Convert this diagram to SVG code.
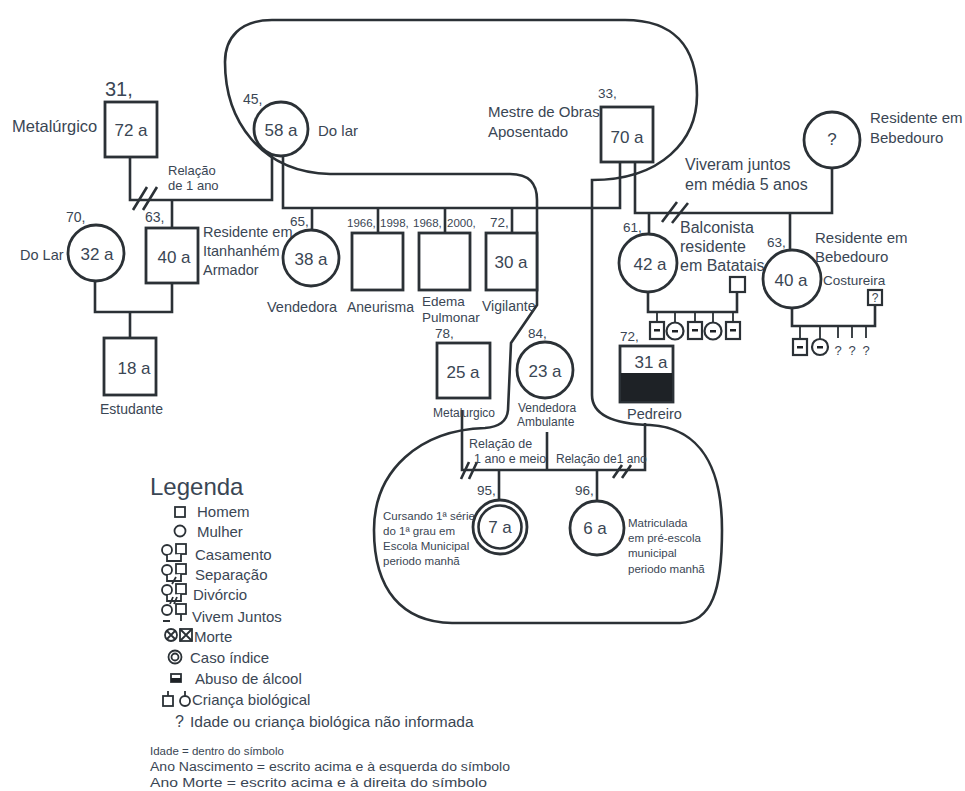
<svg xmlns="http://www.w3.org/2000/svg" width="965" height="791" viewBox="0 0 965 791">
<style>
.ln{fill:none;stroke:#2b3136;stroke-width:2.6}
.thin{fill:none;stroke:#2b3136;stroke-width:1.8}
.sh{fill:#fff;stroke:#2b3136;stroke-width:2.8}
.sm{fill:#fff;stroke:#2b3136;stroke-width:2.2}
.lgs{fill:#fff;stroke:#2b3136;stroke-width:1.8}
.blk{fill:#1e2226}
.t{font-family:"Liberation Sans",Arial,Helvetica,sans-serif;fill:#3a4654}
.age{font-size:17px;text-anchor:middle}
.yr{font-size:13.5px}
.yy{font-size:11.5px}
.l15{font-size:15px}
.l14{font-size:14px}
.l12{font-size:12px}
.l11{font-size:11.5px}
.l16{font-size:16px}
</style>
<rect width="965" height="791" fill="#fff"/>

<g id="household">
<path class="ln" d="M592,180 C662,180 697,140 697,95 C697,45 672,20 625,20 L272,20 C240,20 225,38 225,62 C225,120 260,172 330,174 L510,174 C530,174 537,184 537,200 L537,305 L511,343 L508,410 C507,422 498,427 485,428 C420,430 374,470 374,530 C374,590 402,622 452,623 L680,623 C712,622 722,590 722,530 C722,470 702,428 650,425 C615,424 592,415 592,395 Z"/>
</g>

<g id="connectors">
<path class="ln" d="M130,157 V200 H272 V155"/>
<path class="ln" d="M172,200 V228"/>
<path class="ln" d="M283,155 V208 H620 V162"/>
<path class="ln" d="M312,208 V230 M378,208 V233 M445,208 V233 M512,208 V233"/>
<path class="ln" d="M635,162 V213 H832 V168"/>
<path class="ln" d="M649,213 V234 M790,213 V250"/>
<path class="ln" d="M648,292 V312 H737 V292"/>
<path class="thin" d="M657,312 V322 M675,312 V322 M695,312 V322 M713,312 V322 M733,312 V322"/>
<path class="ln" d="M792,308 V326 H875 V305"/>
<path class="thin" d="M800,326 V339 M820,326 V339 M838,326 V338 M852,326 V338 M866,326 V338"/>
<path class="ln" d="M95,281 V312 H172 V283"/>
<path class="ln" d="M130,312 V338"/>
<path class="ln" d="M462,410 V470 H645 V423"/>
<path class="ln" d="M547,432 V470"/>
<path class="ln" d="M499,470 V500 M597,470 V501"/>
<path class="ln" d="M133,210 L147,187 M143,210 L157,187"/>
<path class="ln" d="M662,222 L677,202 M672,223 L688,203"/>
<path class="ln" d="M461,479 L469,462 M469,479 L477,462"/>
<path class="ln" d="M613,478 L622,465 M622,478 L631,465"/>
</g>

<g id="n-72a">
<text class="t" x="105" y="96" font-size="20">31,</text>
<rect class="sh" x="105" y="102" width="52" height="55"/>
<text class="t age" x="131" y="136">72 a</text>
<text class="t" x="12" y="132" font-size="16.5">Metalúrgico</text>
</g>
<g id="n-58a">
<text class="t" x="243" y="104" font-size="14">45,</text>
<circle class="sh" cx="281" cy="129" r="27"/>
<text class="t age" x="281" y="136">58 a</text>
<text class="t l15" x="318" y="136">Do lar</text>
</g>
<g id="rel-left">
<text class="t" x="168" y="175" font-size="13">Relação</text>
<text class="t" x="168" y="190" font-size="13">de 1 ano</text>
</g>
<g id="n-32a">
<text class="t l14" x="66" y="222">70,</text>
<circle class="sh" cx="96" cy="253" r="28"/>
<text class="t age" x="97" y="260">32 a</text>
<text class="t" x="20" y="260" font-size="14.5">Do Lar</text>
</g>
<g id="n-40a-left">
<text class="t l14" x="145" y="222">63,</text>
<rect class="sh" x="146" y="228" width="52" height="55"/>
<text class="t age" x="174" y="263">40 a</text>
<text class="t" x="203" y="237" font-size="14.5">Residente em</text>
<text class="t" x="203" y="256" font-size="14.5">Itanhanhém</text>
<text class="t" x="203" y="275" font-size="14.5">Armador</text>
</g>
<g id="n-18a">
<rect class="sh" x="104" y="338" width="52" height="57"/>
<text class="t age" x="134" y="374">18 a</text>
<text class="t l14" x="100" y="414">Estudante</text>
</g>
<g id="n-38a">
<text class="t yr" x="290" y="226">65,</text>
<circle class="sh" cx="311" cy="258" r="28"/>
<text class="t age" x="311" y="265">38 a</text>
<text class="t" x="267" y="312" font-size="14.5">Vendedora</text>
</g>
<g id="n-aneurisma">
<text class="t yy" x="347" y="227">1966,</text>
<text class="t yy" x="380" y="227">1998,</text>
<rect class="sh" x="352" y="233" width="51" height="57"/>
<text class="t l14" x="347" y="312">Aneurisma</text>
</g>
<g id="n-edema">
<text class="t yy" x="413" y="227">1968,</text>
<text class="t yy" x="447" y="227">2000,</text>
<rect class="sh" x="419" y="233" width="51" height="57"/>
<text class="t" x="422" y="306" font-size="13.5">Edema</text>
<text class="t" x="422" y="322" font-size="13.5">Pulmonar</text>
</g>
<g id="n-30a">
<text class="t yr" x="490" y="227">72,</text>
<rect class="sh" x="486" y="233" width="51" height="57"/>
<text class="t age" x="511" y="268">30 a</text>
<text class="t l14" x="482" y="311">Vigilante</text>
</g>
<g id="n-70a">
<text class="t l15" x="488" y="117">Mestre de Obras</text>
<text class="t l15" x="488" y="137">Aposentado</text>
<text class="t yr" x="598" y="98">33,</text>
<rect class="sh" x="601" y="107" width="52" height="55"/>
<text class="t age" x="627" y="143">70 a</text>
</g>
<g id="rel-right">
<text class="t l16" x="685" y="170">Viveram juntos</text>
<text class="t l16" x="685" y="190">em média 5 anos</text>
</g>
<g id="n-q-top">
<circle class="sh" cx="832" cy="140" r="28"/>
<text class="t age" x="832" y="145" font-size="13">?</text>
<text class="t l15" x="870" y="123">Residente em</text>
<text class="t l15" x="870" y="143">Bebedouro</text>
</g>
<g id="n-42a">
<text class="t yr" x="623" y="232">61,</text>
<circle class="sh" cx="648" cy="263" r="29"/>
<text class="t age" x="650" y="270">42 a</text>
<text class="t l16" x="680" y="233">Balconista</text>
<text class="t l16" x="680" y="252">residente</text>
<text class="t l16" x="680" y="271">em Batatais</text>
</g>
<g id="n-42a-partner">
<rect class="sm" x="730" y="277" width="15" height="15"/>
</g>
<g id="n-42a-children">
<rect class="sm" x="650" y="322" width="14" height="17"/><rect class="blk" x="654" y="329" width="6" height="2.5"/>
<circle class="sm" cx="675" cy="331" r="8.5"/><rect class="blk" x="672" y="330" width="6" height="2.5"/>
<rect class="sm" x="688" y="322" width="14" height="17"/><rect class="blk" x="692" y="329" width="6" height="2.5"/>
<circle class="sm" cx="713" cy="331" r="8.5"/><rect class="blk" x="710" y="330" width="6" height="2.5"/>
<rect class="sm" x="726" y="322" width="14" height="17"/><rect class="blk" x="730" y="329" width="6" height="2.5"/>
</g>
<g id="n-40a-right">
<text class="t yr" x="767" y="247">63,</text>
<circle class="sh" cx="792" cy="279" r="29"/>
<text class="t age" x="791" y="286">40 a</text>
<text class="t l15" x="815" y="243">Residente em</text>
<text class="t l15" x="815" y="262">Bebedouro</text>
<text class="t" x="823" y="285" font-size="13.5">Costureira</text>
</g>
<g id="n-40a-partner">
<rect class="sm" x="868" y="290" width="14" height="15"/>
<text class="t" x="875" y="302" font-size="12" text-anchor="middle">?</text>
</g>
<g id="n-40a-children">
<rect class="sm" x="793" y="339" width="14" height="16"/><rect class="blk" x="797" y="346" width="6" height="2.5"/>
<circle class="sm" cx="820" cy="347" r="8"/><rect class="blk" x="817" y="346" width="6" height="2.5"/>
<text class="t" x="838" y="355" font-size="13" text-anchor="middle">?</text>
<text class="t" x="852" y="355" font-size="13" text-anchor="middle">?</text>
<text class="t" x="866" y="355" font-size="13" text-anchor="middle">?</text>
</g>
<g id="n-31a">
<text class="t yr" x="620" y="341">72,</text>
<rect class="sh" x="620" y="346" width="53" height="56"/>
<rect class="blk" x="621" y="373" width="51" height="28"/>
<text class="t age" x="651" y="368">31 a</text>
<text class="t" x="627" y="419" font-size="14.5">Pedreiro</text>
</g>
<g id="n-25a">
<text class="t yr" x="435" y="338">78,</text>
<rect class="sh" x="437" y="343" width="53" height="55"/>
<text class="t age" x="463" y="378">25 a</text>
<text class="t l12" x="433" y="417">Metalurgico</text>
</g>
<g id="n-23a">
<text class="t yr" x="528" y="338">84,</text>
<circle class="sh" cx="545" cy="370" r="28"/>
<text class="t age" x="545" y="377">23 a</text>
<text class="t l12" x="518" y="412">Vendedora</text>
<text class="t l12" x="517" y="426">Ambulante</text>
</g>
<g id="rel-bottom">
<text class="t" x="469" y="448" font-size="12.5">Relação de</text>
<text class="t" x="474" y="463" font-size="12.5">1 ano e meio</text>
<text class="t" x="556" y="463" font-size="12">Relação de1 ano</text>
</g>
<g id="n-7a">
<text class="t yr" x="477" y="495">95,</text>
<circle class="sh" cx="500" cy="527" r="27"/>
<circle class="ln" cx="500" cy="527" r="21.5" stroke-width="2.2"/>
<text class="t age" x="500" y="533">7 a</text>
<text class="t l11" x="383" y="520">Cursando 1ª série</text>
<text class="t l11" x="383" y="535">do 1ª grau em</text>
<text class="t l11" x="383" y="550">Escola Municipal</text>
<text class="t l11" x="383" y="565">periodo manhã</text>
</g>
<g id="n-6a">
<text class="t yr" x="575" y="495">96,</text>
<circle class="sh" cx="597" cy="528" r="27"/>
<text class="t age" x="595" y="534">6 a</text>
<text class="t l11" x="628" y="527">Matriculada</text>
<text class="t l11" x="628" y="542">em pré-escola</text>
<text class="t l11" x="628" y="557">municipal</text>
<text class="t l11" x="628" y="573">periodo manhã</text>
</g>

<g id="legend">
<text class="t" x="150" y="495" font-size="24">Legenda</text>
<rect class="lgs" x="175" y="507" width="10" height="10"/>
<text class="t l15" x="197" y="517">Homem</text>
<circle class="lgs" cx="180" cy="531" r="5.5"/>
<text class="t l15" x="197" y="537">Mulher</text>
<circle class="lgs" cx="167" cy="550" r="5"/><rect class="lgs" x="176" y="544" width="10" height="10"/>
<path class="lgs" fill="none" d="M167,555 V561 H181 V554"/>
<text class="t l15" x="195" y="560">Casamento</text>
<circle class="lgs" cx="167" cy="570" r="5"/><rect class="lgs" x="176" y="564" width="10" height="10"/>
<path class="lgs" fill="none" d="M167,575 V581 H181 V574 M172,584 L176,577"/>
<text class="t l15" x="195" y="580">Separação</text>
<circle class="lgs" cx="167" cy="590" r="5"/><rect class="lgs" x="176" y="584" width="10" height="10"/>
<path class="lgs" fill="none" d="M167,595 V601 H181 V594 M170,604 L173,597 M174,604 L177,597"/>
<text class="t l15" x="193" y="600">Divórcio</text>
<circle class="lgs" cx="167" cy="610" r="5"/><rect class="lgs" x="176" y="604" width="10" height="10"/>
<path class="lgs" fill="none" d="M163,621 H170 M181,614 V621"/>
<text class="t l15" x="192" y="622">Vivem Juntos</text>
<circle class="lgs" cx="171" cy="635" r="6"/>
<path class="lgs" fill="none" d="M167,631 L175,639 M175,631 L167,639"/>
<rect class="lgs" x="180" y="629" width="12" height="12"/>
<path class="lgs" fill="none" d="M180,629 L192,641 M192,629 L180,641"/>
<text class="t l15" x="194" y="642">Morte</text>
<circle class="lgs" cx="175" cy="657" r="6.5"/><circle class="lgs" cx="175" cy="657" r="3.5"/>
<text class="t l15" x="190" y="663">Caso índice</text>
<rect class="lgs" x="171" y="674" width="10" height="8"/><rect class="blk" x="171" y="678" width="10" height="4"/>
<text class="t l15" x="195" y="684">Abuso de álcool</text>
<rect class="lgs" x="163" y="696" width="10" height="10"/><circle class="lgs" cx="185" cy="701" r="5"/>
<path class="lgs" fill="none" d="M168,696 V691 M185,696 V691"/>
<text class="t l15" x="192" y="705">Criança biológical</text>
<text class="t" x="175" y="727" font-size="16">?</text>
<text class="t" x="190" y="727" font-size="15.5">Idade ou criança biológica não informada</text>
<text class="t" x="150" y="755" font-size="11.5">Idade = dentro do símbolo</text>
<text class="t" x="150" y="771" font-size="12" textLength="360" lengthAdjust="spacingAndGlyphs">Ano Nascimento = escrito acima e à esquerda do símbolo</text>
<text class="t" x="150" y="787" font-size="12" textLength="337" lengthAdjust="spacingAndGlyphs">Ano Morte = escrito acima e à direita do símbolo</text>
</g>
</svg>
